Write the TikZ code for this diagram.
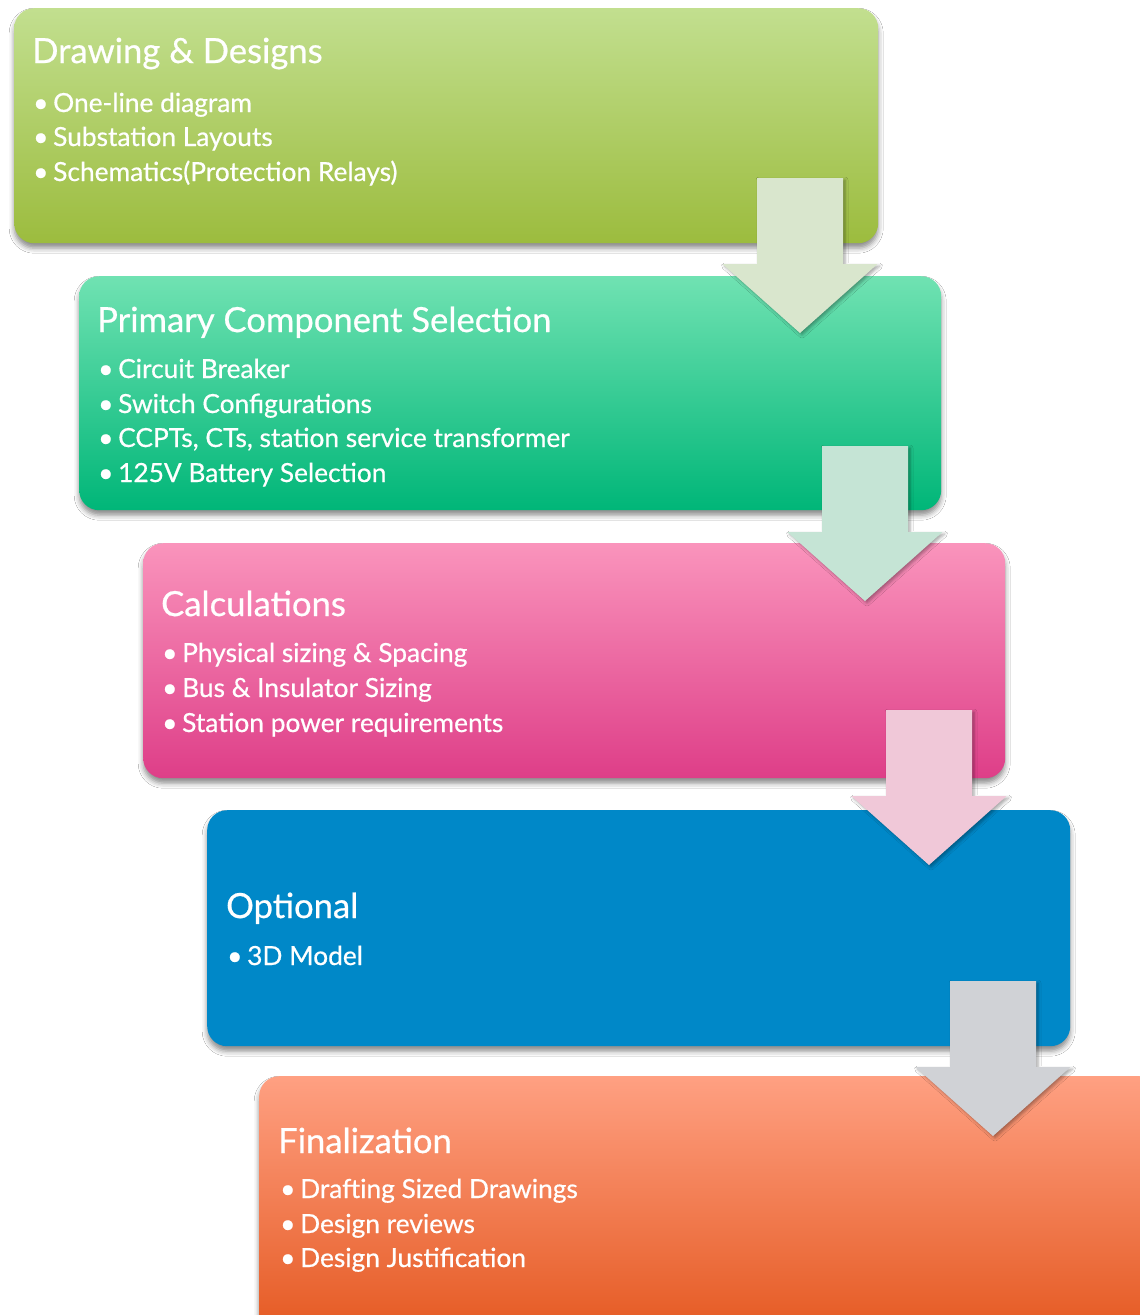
\documentclass[tikz,border=0pt]{standalone}
\usepackage{fontspec}
\setmainfont{Lato}
\newfontfamily\boxfont{Lato}[FakeBold=0.6]
\usetikzlibrary{shadows.blur}
\definecolor{gA1}{RGB}{194,223,143}\definecolor{gA2}{RGB}{168,200,78}\definecolor{gA3}{RGB}{156,188,62}
\definecolor{gB1}{RGB}{112,226,178}\definecolor{gB2}{RGB}{0,208,150}\definecolor{gB3}{RGB}{0,182,120}
\definecolor{gC1}{RGB}{250,148,188}\definecolor{gC2}{RGB}{238,98,160}\definecolor{gC3}{RGB}{222,62,136}
\definecolor{gD}{RGB}{0,136,200}
\definecolor{gE1}{RGB}{255,160,130}\definecolor{gE2}{RGB}{242,116,52}\definecolor{gE3}{RGB}{228,88,32}
\definecolor{arA}{RGB}{217,230,205}\definecolor{arB}{RGB}{197,228,213}
\definecolor{arC}{RGB}{240,200,216}\definecolor{arD}{RGB}{208,210,214}
\newcommand\bulletline[3]{\node[item] (#1) at (#2) {\makebox[20pt][l]{\textbullet}#3};}
\newcommand\blockdown[3]{\coordinate (#1) at (#2);
  \fill[blockarrow,#3] (#1) ++(-43,0) -- ++(86,0) -- ++(0,86) -- ++(34.5,0)
    -- ++(-77.5,69) -- ++(-77.5,-69) -- ++(34.5,0) -- cycle;}
\begin{document}
\begin{tikzpicture}[x=1pt,y=-1pt,
  box/.style={rounded corners=20pt, inner sep=0pt, anchor=north west,
    blur shadow={shadow xshift=0pt,shadow yshift=-5pt,shadow blur radius=5pt,shadow opacity=45}},
  title/.style={text=white, font=\boxfont\fontsize{34.6}{40}\selectfont, anchor=base west, inner sep=0pt},
  item/.style={text=white, font=\boxfont\fontsize{26.3}{30}\selectfont, anchor=base west, inner sep=0pt},
  blockarrow/.style={blur shadow={shadow xshift=2pt,shadow yshift=-2pt,shadow blur radius=3pt,shadow opacity=35}}]
\fill[white] (0,0) rectangle (1140,1315);
\clip (0,0) rectangle (1140,1315);
% boxes
\node[box, minimum width=864pt, minimum height=235pt, top color=gA1, middle color=gA2, bottom color=gA3] (b1) at (14,8) {};
\node[box, minimum width=862pt, minimum height=234pt, top color=gB1, middle color=gB2, bottom color=gB3] (b2) at (79,276) {};
\node[box, minimum width=862pt, minimum height=235pt, top color=gC1, middle color=gC2, bottom color=gC3] (b3) at (143,543) {};
\node[box, minimum width=863pt, minimum height=236pt, fill=gD] (b4) at (207,810) {};
\node[box, minimum width=900pt, minimum height=262pt, top color=gE1, middle color=gE2, bottom color=gE3] (b5) at (259,1076) {};
% texts box 1
\node[title] (t1) at (32,63) {Drawing \& Designs};
\bulletline{i11}{33,112}{One-line diagram}
\bulletline{i12}{33,146}{Substation Layouts}
\bulletline{i13}{33,181}{Schematics(Protection Relays)}
% box 2
\node[title] (t2) at (97,332) {Primary Component Selection};
\bulletline{i21}{98,378}{Circuit Breaker}
\bulletline{i22}{98,413}{Switch Configurations}
\bulletline{i23}{98,447}{CCPTs, CTs, station service transformer}
\bulletline{i24}{98,482}{125V Battery Selection}
% box 3
\node[title] (t3) at (161,616) {Calculations};
\bulletline{i31}{162,662}{Physical sizing \& Spacing}
\bulletline{i32}{162,697}{Bus \& Insulator Sizing}
\bulletline{i33}{162,732}{Station power requirements}
% box 4
\node[title] (t4) at (226,918) {Optional};
\bulletline{i41}{227,965}{3D Model}
% box 5
\node[title] (t5) at (278,1153) {Finalization};
\bulletline{i51}{280,1198}{Drafting Sized Drawings}
\bulletline{i52}{280,1233}{Design reviews}
\bulletline{i53}{280,1267}{Design Justification}
% arrows
\blockdown{a1}{800,178}{arA}
\blockdown{a2}{865,446}{arB}
\blockdown{a3}{929,710}{arC}
\blockdown{a4}{993,981}{arD}
\end{tikzpicture}
\end{document}
